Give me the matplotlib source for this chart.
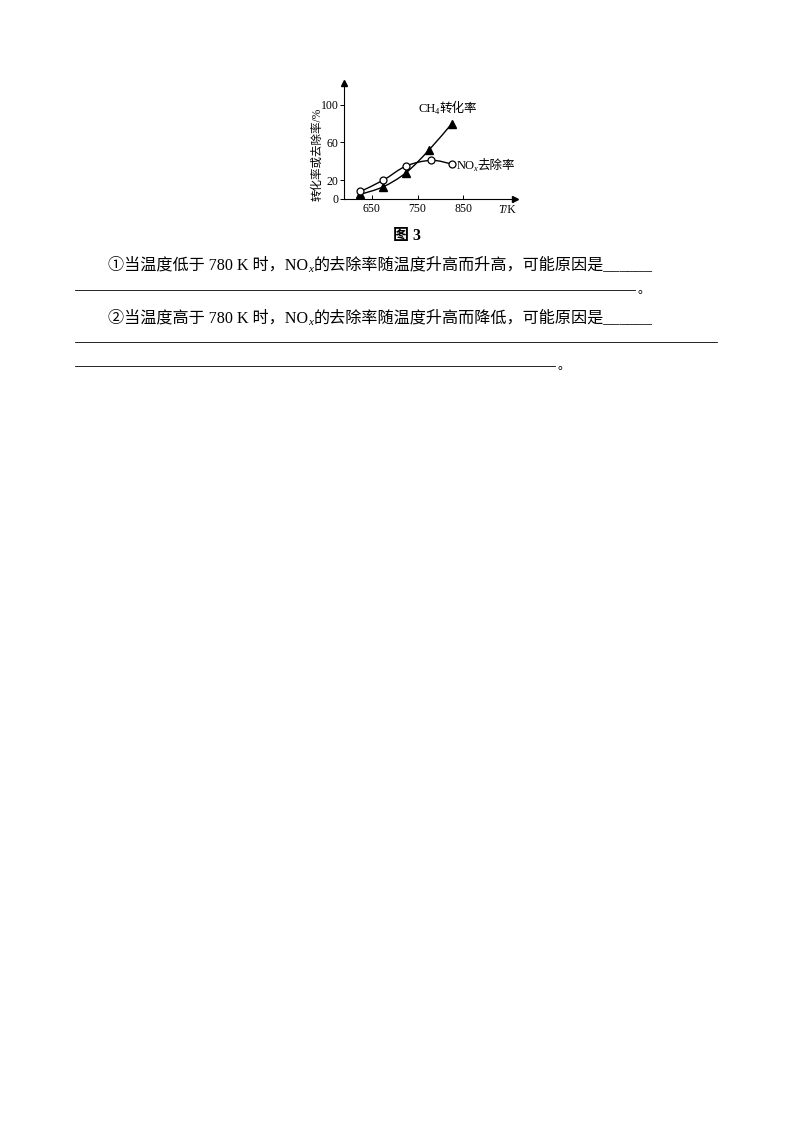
import matplotlib
matplotlib.use('Agg')
import matplotlib.pyplot as plt
from matplotlib.path import Path
from matplotlib.patches import PathPatch
from matplotlib.lines import Line2D
import numpy as np

# data
temp_ch4 = [625, 675, 725, 775, 825]
ch4_conv = [5, 13, 28, 52, 80]
temp_nox = [625, 675, 725, 780, 825]
nox_removal = [8, 20, 35, 41, 37]
x_ticks = [650, 750, 850]
y_ticks = [0, 20, 60, 100]

W, H = 794, 1123
FAM = ['Liberation Serif', 'Noto Sans CJK SC']
plt.rcParams['font.family'] = FAM

fig = plt.figure(figsize=(W / 100, H / 100), dpi=100)
renderer = fig.canvas.get_renderer()


def put_runs(x_px, y_px, parts):
    """Lay text runs side by side; y_px is the baseline in pixels from the top."""
    x = x_px
    for s, size, dy, style, gap in parts:
        t = fig.text(x / W, 1 - (y_px + dy) / H, s, fontsize=size,
                     va='baseline', ha='left', family=FAM, style=style)
        x += t.get_window_extent(renderer).width + gap
    return x


def smooth_path(xs, ys):
    """Catmull-Rom curve through the points, drawn as cubic Bezier segments."""
    p = np.column_stack([xs, ys]).astype(float)
    ext = np.vstack([p[0], p, p[-1]])
    verts = [p[0]]
    codes = [Path.MOVETO]
    for i in range(1, len(ext) - 2):
        c1 = ext[i] + (ext[i + 1] - ext[i - 1]) / 6
        c2 = ext[i + 1] - (ext[i + 2] - ext[i]) / 6
        verts += [c1, c2, ext[i + 1]]
        codes += [Path.CURVE4] * 3
    return Path(verts, codes)


# chart axes: origin at (344, 199) px, arrows end at x=515 / y=83
ax = fig.add_axes([344 / W, 1 - 199 / H, (515 - 344) / W, (199 - 83) / H])
ax.set_xlim(589, 963)
ax.set_ylim(0, 123)
for side in ('top', 'right'):
    ax.spines[side].set_visible(False)
for side in ('left', 'bottom'):
    ax.spines[side].set_linewidth(0.8)
ax.plot(1, 0, '>', color='black', markersize=4, transform=ax.transAxes, clip_on=False)
ax.plot(0, 1, '^', color='black', markersize=4, transform=ax.transAxes, clip_on=False)

ax.add_patch(PathPatch(smooth_path(temp_ch4, ch4_conv), fill=False, lw=1.0, color='black'))
ax.add_patch(PathPatch(smooth_path(temp_nox, nox_removal), fill=False, lw=1.0, color='black'))
ax.plot(temp_ch4, ch4_conv, linestyle='None', marker='^', markersize=5.5,
        color='black', clip_on=False)
ax.plot(temp_nox, nox_removal, linestyle='None', marker='o', markersize=5,
        markerfacecolor='white', markeredgecolor='black', markeredgewidth=0.9,
        clip_on=False, zorder=3)

ax.set_xticks(x_ticks)
ax.set_yticks(y_ticks)
ax.tick_params(axis='x', direction='in', length=3, width=0.7, pad=3, labelsize=8.5)
ax.tick_params(axis='y', direction='out', length=3, width=0.7, pad=1, labelsize=8.5)
ax.set_facecolor('none')

fig.text(318 / W, 1 - 154 / H, '转化率或去除率/%', rotation=90, fontsize=8.3,
         ha='center', va='center', family=FAM)
put_runs(498, 213, [('T', 8.5, 0, 'italic', 0), ('/K', 8.5, 0, 'normal', 0)])

put_runs(418, 112, [('CH', 9, 0, 'normal', 0), ('4', 6, 2, 'normal', 0),
                    ('转化率', 9, 0, 'normal', 0)])
put_runs(457, 169, [('NO', 9, 0, 'normal', -1.5), ('x', 6, 2, 'italic', 0.5),
                    ('去除率', 9, 0, 'normal', 0)])

# caption and questions
fig.text(407 / W, 1 - 240 / H, '图 3', fontsize=11.5, ha='center', va='baseline',
         family=FAM, weight='bold')

put_runs(108, 269, [('①当温度低于 780 K 时，NO', 11.6, 0, 'normal', 0),
                    ('x', 8, 3, 'italic', 0.5),
                    ('的去除率随温度升高而升高，可能原因是______', 11.6, 0, 'normal', 0)])
fig.add_artist(Line2D([75 / W, 635 / W], [1 - 290 / H, 1 - 290 / H], lw=0.6, color='black'))
fig.text(637 / W, 1 - 293 / H, '。', fontsize=9, va='baseline', family=FAM)

put_runs(108, 322, [('②当温度高于 780 K 时，NO', 11.6, 0, 'normal', 0),
                    ('x', 8, 3, 'italic', 0.5),
                    ('的去除率随温度升高而降低，可能原因是______', 11.6, 0, 'normal', 0)])
fig.add_artist(Line2D([75 / W, 717 / W], [1 - 342 / H, 1 - 342 / H], lw=0.6, color='black'))
fig.add_artist(Line2D([75 / W, 555 / W], [1 - 366 / H, 1 - 366 / H], lw=0.6, color='black'))
fig.text(557 / W, 1 - 369 / H, '。', fontsize=9, va='baseline', family=FAM)

fig.savefig('out.png', dpi=100)
